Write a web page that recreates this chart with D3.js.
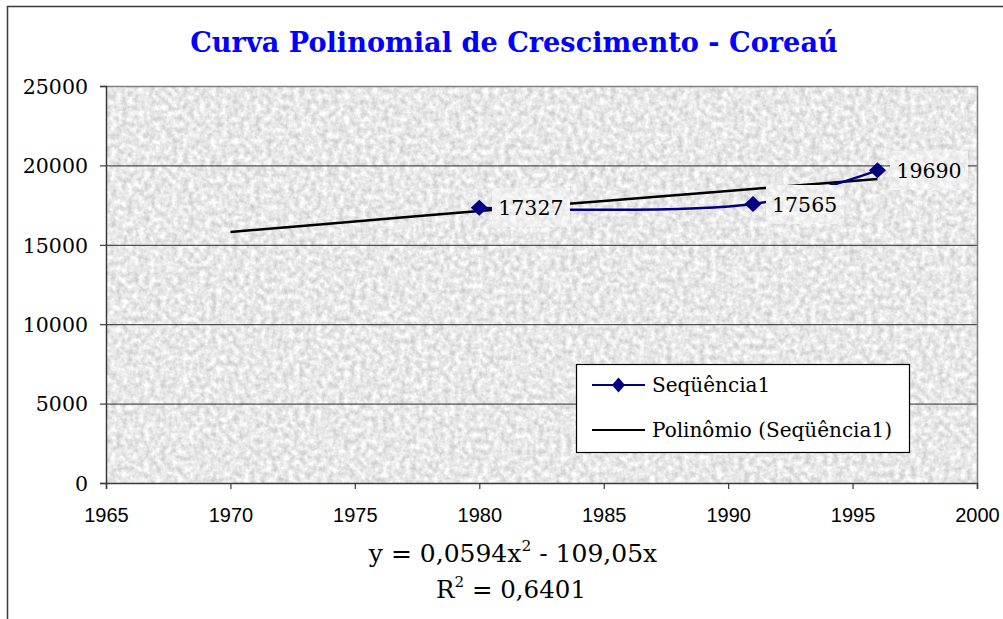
<!DOCTYPE html>
<html>
<head>
<meta charset="utf-8">
<script src="https://cdn.jsdelivr.net/npm/d3@7"></script>
<style>
  html, body { margin: 0; padding: 0; background: #ffffff; }
  svg { display: block; }
</style>
</head>
<body>
<script>
// ---- data ----
const titleText = "Curva Polinomial de Crescimento - Coreaú";
const years = [1980, 1991, 1996];
const population = [17327, 17565, 19690];
const trendYears = [1970, 1975, 1980, 1985, 1990, 1996];
const trendValues = [15810, 16470, 17130, 17760, 18390, 19140];
const xTicks = [1965, 1970, 1975, 1980, 1985, 1990, 1995, 2000];
const yTicks = [0, 5000, 10000, 15000, 20000, 25000];
const seriesName = "Seqüência1";
const trendName = "Polinômio (Seqüência1)";
const equationParts = ["y = 0,0594x", "2", " - 109,05x"];
const r2Parts = ["R", "2", " = 0,6401"];

// ---- layout ----
const W = 1003, H = 619;
const plot = { left: 106, top: 86, right: 977, bottom: 483 };
const serif = "'DejaVu Serif', serif";
const sans = "'Liberation Sans', Arial, sans-serif";
const navy = "#000080";

const svg = d3.select("body").append("svg").attr("width", W).attr("height", H);

const defs = svg.append("defs");
function granite(id, freq, scale, offset, seed) {
  const f = defs.append("filter").attr("id", id)
    .attr("x", 0).attr("y", 0).attr("width", 1).attr("height", 1)
    .attr("color-interpolation-filters", "sRGB");
  f.append("feTurbulence").attr("type", "fractalNoise")
    .attr("baseFrequency", freq).attr("numOctaves", 4).attr("seed", seed).attr("result", "n");
  f.append("feColorMatrix").attr("in", "n").attr("type", "matrix")
    .attr("values", `${scale} 0 0 0 ${offset}  ${scale} 0 0 0 ${offset}  ${scale} 0 0 0 ${offset}  0 0 0 0 1`);
}
granite("granite", 0.18, 0.32, 0.75, 3);
granite("granite2", 0.18, 0.2, 0.84, 7);

// outer chart border (left + top visible)
svg.append("path")
  .attr("d", `M7.5,${H} V6.5 H${W}`)
  .attr("fill", "none").attr("stroke", "#3a3a3a").attr("stroke-width", 1.5);

// title
const title = svg.append("text")
  .attr("x", 514).attr("y", 52)
  .attr("text-anchor", "middle")
  .attr("font-family", serif).attr("font-weight", "bold")
  .attr("font-size", 25).attr("fill", "#0000ff")
  .text(titleText);
const tl = title.node().getComputedTextLength();
if (tl > 0) title.attr("font-size", 25 * 648 / tl);

const x = d3.scaleLinear().domain([1965, 2000]).range([plot.left, plot.right]);
const y = d3.scaleLinear().domain([0, 25000]).range([plot.bottom, plot.top]);

// plot background (granite texture)
svg.append("rect")
  .attr("x", plot.left).attr("y", plot.top)
  .attr("width", plot.right - plot.left).attr("height", plot.bottom - plot.top)
  .attr("fill", "#e4e4e4").attr("filter", "url(#granite)");

// gridlines
const grid = svg.append("g").attr("transform", `translate(${plot.left},0)`)
  .call(d3.axisLeft(y).tickValues(yTicks.filter(v => v > 0 && v < 25000))
    .tickSize(-(plot.right - plot.left)).tickFormat(""));
grid.select(".domain").remove();
grid.selectAll("line").attr("stroke", "#2a2a2a").attr("stroke-width", 1);

// plot border top/right in gray
svg.append("path")
  .attr("d", `M${plot.left},${plot.top + 0.5} H${plot.right + 0.5} V${plot.bottom}`)
  .attr("fill", "none").attr("stroke", "#808080").attr("stroke-width", 1.5);

// y axis
const yAxis = svg.append("g").attr("transform", `translate(${plot.left},0)`)
  .call(d3.axisLeft(y).tickValues(yTicks).tickSize(6).tickPadding(12).tickFormat(d3.format("d")));
yAxis.select(".domain").attr("stroke", "#3a3a3a").attr("stroke-width", 1.5);
yAxis.selectAll(".tick line").attr("stroke", "#3a3a3a").attr("stroke-width", 1.2);
yAxis.selectAll("text").attr("font-family", serif).attr("font-size", 20.5)
  .attr("fill", "#000").attr("dy", "0.36em");

// x axis
const xAxis = svg.append("g").attr("transform", `translate(0,${plot.bottom})`)
  .call(d3.axisBottom(x).tickValues(xTicks).tickSize(6).tickPadding(0).tickFormat(d3.format("d")));
xAxis.select(".domain").attr("stroke", "#3a3a3a").attr("stroke-width", 1.5);
xAxis.selectAll(".tick line").attr("stroke", "#3a3a3a").attr("stroke-width", 1.2);
xAxis.selectAll("text").attr("font-family", sans).attr("font-size", 20)
  .attr("fill", "#000").attr("y", 0).attr("dy", 39);

// trend line
const trendData = trendYears.map((yr, i) => [yr, trendValues[i]]);
svg.append("path")
  .datum(trendData)
  .attr("d", d3.line().x(d => x(d[0])).y(d => y(d[1])).curve(d3.curveMonotoneX))
  .attr("fill", "none").attr("stroke", "#000").attr("stroke-width", 2.5);

// series line
const seriesData = years.map((yr, i) => [yr, population[i]]);
svg.append("path")
  .datum(seriesData)
  .attr("d", d3.line().x(d => x(d[0])).y(d => y(d[1])).curve(d3.curveCatmullRom))
  .attr("fill", "none").attr("stroke", navy).attr("stroke-width", 2.5);

// markers
function diamond(hw, hh) {
  return `M0,${-hh} L${hw},0 L0,${hh} L${-hw},0 Z`;
}
svg.selectAll(".mk").data(seriesData).enter().append("path")
  .attr("class", "mk")
  .attr("transform", d => `translate(${x(d[0])},${y(d[1])})`)
  .attr("d", diamond(8.5, 8)).attr("fill", navy);

// data labels with boxes
const labels = svg.append("g");
seriesData.forEach(d => {
  const g = labels.append("g");
  const rect = g.append("rect");
  const t = g.append("text")
    .attr("x", x(d[0]) + 19).attr("y", y(d[1]) + 7.5)
    .attr("font-family", serif).attr("font-size", 20.5).attr("fill", "#000")
    .text(d[1]);
  const tw = t.node().getComputedTextLength();
  rect.attr("x", x(d[0]) + 13).attr("y", y(d[1]) - 19)
    .attr("width", tw + 12).attr("height", 38)
    .attr("fill", "#ececec").attr("filter", "url(#granite2)");
});

// legend
const lg = svg.append("g");
lg.append("rect").attr("x", 576.5).attr("y", 364.5).attr("width", 333).attr("height", 88)
  .attr("fill", "#fff").attr("stroke", "#000").attr("stroke-width", 1.2);
lg.append("line").attr("x1", 592).attr("x2", 645).attr("y1", 385).attr("y2", 385)
  .attr("stroke", navy).attr("stroke-width", 2);
lg.append("path").attr("transform", "translate(618.5,385)").attr("d", diamond(6.5, 7.5)).attr("fill", navy);
lg.append("text").attr("x", 652).attr("y", 392).attr("font-family", serif).attr("font-size", 20)
  .attr("fill", "#000").text(seriesName);
lg.append("line").attr("x1", 592).attr("x2", 645).attr("y1", 430).attr("y2", 430)
  .attr("stroke", "#000").attr("stroke-width", 2);
lg.append("text").attr("x", 652).attr("y", 437).attr("font-family", serif).attr("font-size", 20)
  .attr("fill", "#000").text(trendName);

// equation text
function supText(parts, cx, by, size) {
  const t = svg.append("text").attr("x", cx).attr("y", by).attr("text-anchor", "middle")
    .attr("font-family", serif).attr("font-size", size).attr("fill", "#000");
  t.append("tspan").text(parts[0]);
  t.append("tspan").attr("dy", -size * 0.45).attr("font-size", size * 0.62).text(parts[1]);
  t.append("tspan").attr("dy", size * 0.45).text(parts[2]);
}
supText(equationParts, 513, 562, 25);
supText(r2Parts, 511, 598, 24.5);
</script>
</body>
</html>
